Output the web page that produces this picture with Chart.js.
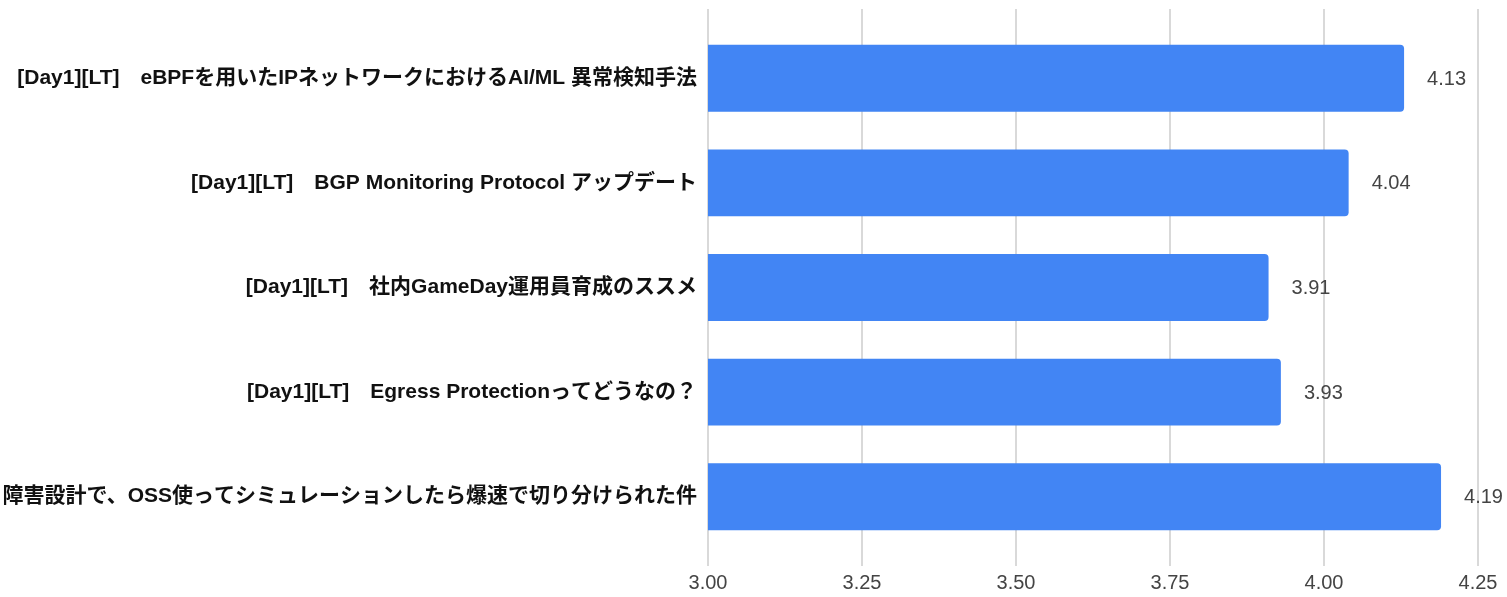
<!DOCTYPE html>
<html>
<head>
<meta charset="utf-8">
<script src="https://cdn.jsdelivr.net/npm/chart.js@4"></script>
<style>
html,body{margin:0;padding:0;background:#fff;}
#wrap{width:1507px;height:597px;position:relative;}
</style>
</head>
<body>
<div id="wrap"><canvas id="c"></canvas></div>
<script>
const categories = [
  "[Day1][LT]\u3000eBPFを用いたIPネットワークにおけるAI/ML 異常検知手法",
  "[Day1][LT]\u3000BGP Monitoring Protocol アップデート",
  "[Day1][LT]\u3000社内GameDay運用員育成のススメ",
  "[Day1][LT]\u3000Egress Protectionってどうなの？",
  "障害設計で、OSS使ってシミュレーションしたら爆速で切り分けられた件"
];
const scores = [4.13, 4.04, 3.91, 3.93, 4.19];
const xTicks = [3.00, 3.25, 3.50, 3.75, 4.00, 4.25];

const FONT = '"Liberation Sans", Arial, "Noto Sans CJK JP", sans-serif';

const valueLabels = {
  id: 'valueLabels',
  afterDatasetsDraw(chart) {
    const ctx = chart.ctx;
    const meta = chart.getDatasetMeta(0);
    ctx.save();
    ctx.font = '20px ' + FONT;
    ctx.fillStyle = '#444';
    ctx.textAlign = 'left';
    ctx.textBaseline = 'middle';
    meta.data.forEach((bar, i) => {
      ctx.fillText(scores[i].toFixed(2), bar.x + 23, bar.y + 1);
    });
    ctx.restore();
  }
};

new Chart(document.getElementById('c'), {
  type: 'bar',
  data: {
    labels: categories,
    datasets: [{
      data: scores,
      backgroundColor: '#4285F4',
      borderRadius: 4,
      borderSkipped: 'start',
      categoryPercentage: 0.8,
      barPercentage: 0.8
    }]
  },
  options: {
    indexAxis: 'y',
    responsive: true,
    maintainAspectRatio: false,
    animation: false,
    layout: { padding: { top: 9, right: 29, bottom: 0, left: 0 } },
    plugins: { legend: { display: false }, tooltip: { enabled: false } },
    scales: {
      x: {
        type: 'linear',
        position: 'bottom',
        min: 3.0,
        max: 4.25,
        afterBuildTicks(scale) { scale.ticks = xTicks.map(v => ({ value: v })); },
        afterFit(scale) { scale.height = 48; },
        grid: { color: '#d9d9d9', lineWidth: 2, tickLength: 17, drawTicks: true },
        border: { display: false },
        ticks: {
          color: '#444',
          font: { size: 20, family: FONT },
          padding: 5,
          callback: v => Number(v).toFixed(2)
        }
      },
      xTop: {
        type: 'linear',
        position: 'top',
        min: 3.0,
        max: 4.25,
        afterBuildTicks(scale) { scale.ticks = xTicks.map(v => ({ value: v })); },
        grid: { color: '#d9d9d9', lineWidth: 2, tickLength: 17, drawOnChartArea: false },
        border: { display: false },
        ticks: { display: false }
      },
      y: {
        grid: { display: false },
        border: { display: false },
        afterFit(scale) { scale.width = 708; },
        ticks: {
          color: '#111',
          padding: 3,
          font: { size: 21, weight: 'bold', family: FONT }
        }
      }
    }
  },
  plugins: [valueLabels]
});
</script>
</body>
</html>
